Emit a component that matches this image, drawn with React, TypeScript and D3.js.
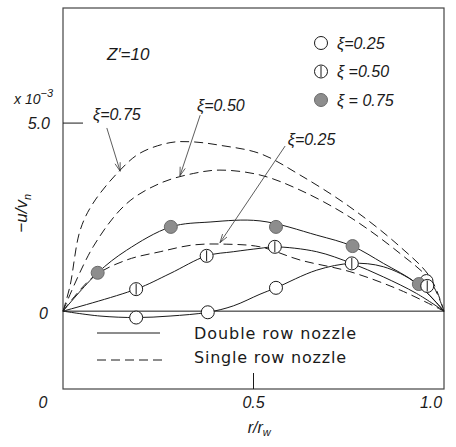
import * as d3 from 'd3';
import React from 'react';

type Pt = [number, number];

// r/r_w vs -u/v_n (x 10^-3)
const singleXi075: Pt[] = [[0, 0], [0.018, 0.65], [0.045, 2.15], [0.079, 2.87], [0.15, 3.75], [0.202, 4.2], [0.281, 4.48], [0.342, 4.5], [0.412, 4.41], [0.517, 4.19], [0.622, 3.62], [0.753, 2.77], [0.885, 1.71], [0.963, 0.91], [1, 0]];
const singleXi050: Pt[] = [[0, 0], [0.079, 1.71], [0.167, 2.86], [0.255, 3.4], [0.342, 3.66], [0.412, 3.75], [0.517, 3.62], [0.622, 3.22], [0.753, 2.5], [0.885, 1.53], [0.963, 0.82], [1, 0]];
const singleXi025: Pt[] = [[0, 0], [0.079, 0.91], [0.167, 1.36], [0.255, 1.58], [0.342, 1.76], [0.43, 1.78], [0.517, 1.71], [0.622, 1.36], [0.753, 1.05], [0.885, 0.56], [1, 0]];

const doubleXi075: Pt[] = [[0, 0], [0.091, 1.02], [0.167, 1.62], [0.283, 2.24], [0.386, 2.37], [0.517, 2.4], [0.666, 2.02], [0.759, 1.73], [0.841, 1.27], [0.928, 0.74], [1, 0]];
const doubleXi050: Pt[] = [[0, 0], [0.192, 0.585], [0.281, 1.0], [0.377, 1.47], [0.447, 1.58], [0.517, 1.67], [0.556, 1.71], [0.666, 1.58], [0.758, 1.27], [0.841, 0.91], [0.928, 0.47], [1, 0]];
const doubleXi025: Pt[] = [[0, 0], [0.097, -0.13], [0.192, -0.17], [0.281, -0.13], [0.38, -0.03], [0.447, 0.14], [0.517, 0.45], [0.559, 0.62], [0.666, 1.09], [0.758, 1.27], [0.841, 1.18], [0.928, 0.74], [1, 0]];

const pointsXi025: Pt[] = [[0.192, -0.17], [0.38, -0.03], [0.559, 0.62], [0.954, 0.8]];
const pointsXi050: Pt[] = [[0.192, 0.585], [0.377, 1.47], [0.556, 1.71], [0.758, 1.27], [0.956, 0.67]];
const pointsXi075: Pt[] = [[0.091, 1.02], [0.283, 2.24], [0.559, 2.24], [0.76, 1.73], [0.934, 0.72]];

const legendLabels = ['ξ=0.25', 'ξ =0.50', 'ξ = 0.75'];

// curve labels: text anchor, arrow start, arrow tip (data units)
const curveNotes = [
    { text: 'ξ=0.75', at: [0.079, 5.08], from: [0.115, 4.87], to: [0.15, 3.72] },
    { text: 'ξ=0.50', at: [0.352, 5.32], from: [0.36, 5.21], to: [0.307, 3.6] },
    { text: 'ξ=0.25', at: [0.59, 4.41], from: [0.583, 4.39], to: [0.412, 1.82] },
];

const xTicks = [0, 0.5, 1.0];

const W = 456;
const H = 447;
const frame = { left: 63, right: 444, top: 8, bottom: 389 };
const ink = '#1a1a1a';
const italic = '"Liberation Sans", "DejaVu Sans", sans-serif';

const x = d3.scaleLinear().domain([0, 1]).range([frame.left, frame.right]);
const y = d3.scaleLinear().domain([-2.07, 8.06]).range([frame.bottom, frame.top]);

const line = d3.line<Pt>()
    .x(d => x(d[0]))
    .y(d => y(d[1]))
    .curve(d3.curveCatmullRom.alpha(0.5));

const Marker: React.FC<{ cx: number; cy: number; kind: number }> = ({ cx, cy, kind }) => {
    const r = 6.5;
    return (
        <g>
            <circle cx={cx} cy={cy} r={r} fill={kind === 2 ? '#8d8d8d' : '#fff'} stroke={kind === 2 ? '#6a6a6a' : ink} strokeWidth={1} />
            {kind === 1 && <line x1={cx} x2={cx} y1={cy - r + 1} y2={cy + r - 1} stroke={ink} strokeWidth={1} />}
        </g>
    );
};

const Arrow: React.FC<{ from: number[]; to: number[] }> = ({ from, to }) => {
    const x1 = x(from[0]), y1 = y(from[1]), x2 = x(to[0]), y2 = y(to[1]);
    const a = Math.atan2(y2 - y1, x2 - x1);
    const len = 9, spread = 0.3;
    const p1 = [x2 - len * Math.cos(a - spread), y2 - len * Math.sin(a - spread)];
    const p2 = [x2 - len * Math.cos(a + spread), y2 - len * Math.sin(a + spread)];
    return (
        <g stroke="#333" strokeWidth={0.8} fill="none">
            <line x1={x1} y1={y1} x2={x2} y2={y2} />
            <polyline points={`${p1[0]},${p1[1]} ${x2},${y2} ${p2[0]},${p2[1]}`} />
        </g>
    );
};

export default function App() {
    const dashed = [singleXi075, singleXi050, singleXi025];
    const solid = [doubleXi075, doubleXi050, doubleXi025];
    const markerSets = [pointsXi025, pointsXi075, pointsXi050];
    const markerKinds = [0, 2, 1];

    return (
        <svg width={W} height={H} style={{ position: 'absolute', left: 0, top: 0, background: '#fff' }}>
            {/* frame */}
            <rect x={frame.left} y={frame.top} width={frame.right - frame.left} height={frame.bottom - frame.top}
                fill="none" stroke="#444" strokeWidth={1.2} />

            {/* zero line and ticks */}
            <line x1={x(0)} x2={x(1)} y1={y(0)} y2={y(0)} stroke={ink} strokeWidth={1} />
            <line x1={frame.left} x2={frame.left + 20} y1={y(5)} y2={y(5)} stroke={ink} strokeWidth={1} />
            <line x1={x(0.5)} x2={x(0.5)} y1={frame.bottom} y2={frame.bottom - 16} stroke={ink} strokeWidth={1} />

            {/* y labels */}
            <g fontFamily={italic} fontStyle="italic" fill={ink}>
                <text x={frame.left - 13} y={y(5)} dy="0.35em" textAnchor="end" fontSize={16}>5.0</text>
                <text x={frame.left - 15} y={y(0)} dy="0.5em" textAnchor="end" fontSize={16}>0</text>
                <text x={14} y={104} fontSize={14}>x 10<tspan dy={-7} fontSize={11}>−3</tspan></text>
                <text transform={`translate(27, ${y(2.6)}) rotate(-90)`} textAnchor="middle" fontSize={17}>
                    −u/v<tspan dy={4} fontSize={11}>n</tspan>
                </text>
            </g>

            {/* x labels */}
            <g fontFamily={italic} fontStyle="italic" fill={ink} fontSize={16}>
                {xTicks.map((t, i) => (
                    <text key={t} x={x(t) + (i === 0 ? -20 : i === 2 ? -13 : 0)} y={frame.bottom + 19}
                        textAnchor="middle">{t === 0 ? '0' : t.toFixed(1)}</text>
                ))}
                <text x={x(0.515)} y={frame.bottom + 44} textAnchor="middle" fontSize={16}>
                    r/r<tspan dy={3} fontSize={11}>w</tspan>
                </text>
            </g>

            <text x={107} y={60} fontFamily={italic} fontStyle="italic" fontSize={17} fill={ink}>Z′=10</text>

            {/* single row nozzle (dashed) */}
            {dashed.map((d, i) => (
                <path key={'s' + i} d={line(d) ?? ''} fill="none" stroke={ink} strokeWidth={1} strokeDasharray="9,5" />
            ))}
            {/* double row nozzle (solid) */}
            {solid.map((d, i) => (
                <path key={'d' + i} d={line(d) ?? ''} fill="none" stroke={ink} strokeWidth={1} />
            ))}

            {markerSets.map((set, i) => set.map((p, j) => (
                <Marker key={`${i}-${j}`} cx={x(p[0])} cy={y(p[1])} kind={markerKinds[i]} />
            )))}

            {/* curve annotations */}
            {curveNotes.map(n => (
                <g key={n.text}>
                    <text x={x(n.at[0])} y={y(n.at[1])} fontFamily={italic} fontStyle="italic" fontSize={16} fill={ink}>{n.text}</text>
                    <Arrow from={n.from} to={n.to} />
                </g>
            ))}

            {/* marker legend */}
            {legendLabels.map((label, i) => (
                <g key={label} transform={`translate(321, ${43 + i * 28.5})`}>
                    <Marker cx={0} cy={0} kind={i} />
                    <text x={16} y={0} dy="0.35em" fontFamily={italic} fontStyle="italic" fontSize={16} fill={ink}>{label}</text>
                </g>
            ))}

            {/* line legend */}
            <line x1={97} x2={160} y1={333} y2={333} stroke={ink} strokeWidth={1} />
            <line x1={97} x2={163} y1={360} y2={360} stroke={ink} strokeWidth={1} strokeDasharray="9,5" />
            <g fontFamily='"DejaVu Sans", sans-serif' fontSize={16} fill={ink}>
                <text x={194} y={339} textLength={162} lengthAdjust="spacing">Double row nozzle</text>
                <text x={194} y={363} textLength={152} lengthAdjust="spacing">Single row nozzle</text>
            </g>
        </svg>
    );
}
